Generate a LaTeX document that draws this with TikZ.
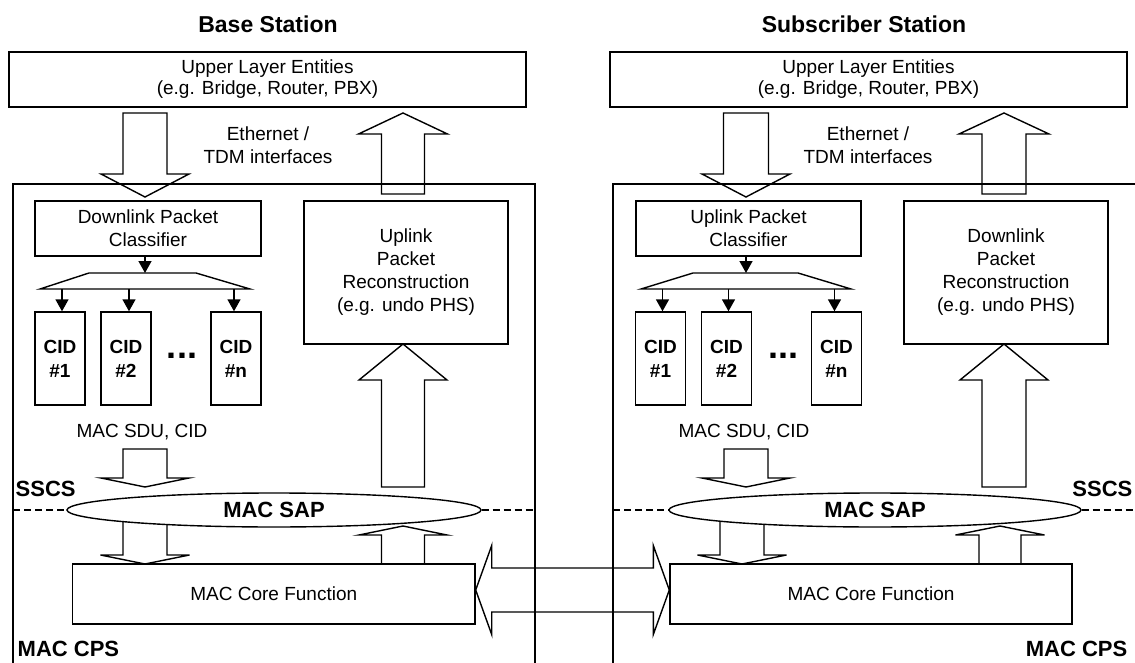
\documentclass[tikz,border=0pt]{standalone}
\usepackage{fontspec}
\setmainfont{Liberation Sans}
\usetikzlibrary{calc,arrows.meta,shapes.geometric}

\newcommand\txtnorm{\fontsize{19}{23}\selectfont}
\newcommand\txtbold{\fontsize{22}{26}\selectfont\bfseries}

% hollow block arrow: #1 tail, #2 tip, #3 shaft half-width, #4 head half-width, #5 head length
\newcommand\fatarrow[5]{%
  \coordinate (fahead) at ($(#2)!#5!(#1)$);
  \draw[blockarrow] ($(#1)!#3!90:(#2)$) -- ($(fahead)!#3!-90:(#1)$)
    -- ($(fahead)!#4!-90:(#1)$) -- (#2) -- ($(fahead)!#4!90:(#1)$)
    -- ($(fahead)!#3!90:(#1)$) -- ($(#1)!#3!-90:(#2)$) -- cycle;}

% hollow double-headed block arrow between #1 and #2
\newcommand\dblfatarrow[5]{%
  \coordinate (faheadA) at ($(#1)!#5!(#2)$);
  \coordinate (faheadB) at ($(#2)!#5!(#1)$);
  \draw[blockarrow] (#1) -- ($(faheadA)!#4!90:(#2)$) -- ($(faheadA)!#3!90:(#2)$)
    -- ($(faheadB)!#3!-90:(#1)$) -- ($(faheadB)!#4!-90:(#1)$) -- (#2)
    -- ($(faheadB)!#4!90:(#1)$) -- ($(faheadB)!#3!90:(#1)$)
    -- ($(faheadA)!#3!-90:(#2)$) -- ($(faheadA)!#4!-90:(#2)$) -- cycle;}

\begin{document}
\begin{tikzpicture}[x=1pt,y=-1pt,
  line width=1.4pt,
  box/.style={draw, align=center, inner sep=0pt, font=\txtnorm},
  cid/.style={draw, align=center, inner sep=0pt, font=\txtbold\fontsize{19}{24}\selectfont,
    minimum width=50pt, minimum height=93pt},
  plain/.style={align=center, inner sep=0pt, font=\txtnorm},
  lbl/.style={inner sep=0pt, font=\txtbold},
  titlelbl/.style={inner sep=0pt, font=\fontsize{23}{27}\selectfont\bfseries},
  sap/.style={draw, fill=white, ellipse, inner sep=0pt, font=\txtbold, minimum height=34pt},
  small/.style={-{Triangle[length=12pt,width=13pt]}, line width=1.5pt},
  blockarrow/.style={line width=1.4pt, line join=miter},
  layerline/.style={line width=1.8pt, dash pattern=on 7pt off 4pt},
  dots/.style={inner sep=0pt, font=\fontsize{36}{36}\selectfont\bfseries}]

\useasboundingbox (0,0) rectangle (1135,663);

% ---------------- Base Station ----------------
\node[titlelbl, anchor=base] (bsTitle) at (268,33) {Base Station};
\node[box, minimum width=517pt, minimum height=55pt, font=\fontsize{19}{21}\selectfont]
  (uleL) at (267.5,79.5) {Upper Layer Entities\\(e.g. Bridge, Router, PBX)};
\node[plain] (ethL) at (268,145) {Ethernet /\\TDM interfaces};

\draw (13,663) -- (13,184) -- (535,184) -- (535,663);

\node[box, minimum width=226pt, minimum height=55pt] (clsL) at (148,228.5) {Downlink Packet\\Classifier};
% fan-out bar below the classifier
\coordinate (fanLtop) at (145,273);
\coordinate (fanLbot) at (145,289);
\draw (40,289) -- (89,273) -- (196,273) -- (250,289) -- cycle;
\node[cid] (cid1L) at (60,358.5) {CID\\\#1};
\node[cid] (cid2L) at (126,358.5) {CID\\\#2};
\node[cid] (cidnL) at (236,358.5) {CID\\\#n};
\node[dots] (dotsL) at (182,356) {...};
\node[box, minimum width=204pt, minimum height=143pt] (recL) at (406,272.5)
  {Uplink\\Packet\\Reconstruction\\(e.g. undo PHS)};
\node[plain] (sduL) at (142,432) {MAC SDU, CID};
\node[box, minimum width=402.5pt, minimum height=60pt] (coreL) at (273.75,594) {MAC Core Function};
\node[lbl, anchor=base west] (sscsL) at (15,496) {SSCS};
\node[lbl, anchor=base west] (cpsL) at (17,656) {MAC CPS};

\draw[small] (fanLtop |- clsL.south) -- (fanLtop);
\draw[small] ([xshift=2pt]cid1L.north |- fanLbot) -- ([xshift=2pt]cid1L.north);
\draw[small] ([xshift=3pt]cid2L.north |- fanLbot) -- ([xshift=3pt]cid2L.north);
\draw[small] ([xshift=-2pt]cidnL.north |- fanLbot) -- ([xshift=-2pt]cidnL.north);

\coordinate (dnLa) at (145,113);  \coordinate (dnLb) at (145,197);
\coordinate (upLa) at (403,194);  \coordinate (upLb) at (403,113);
\coordinate (rcLa) at (403,487);  \coordinate (rcLb) at (403,344);
\coordinate (sdLa) at (145,449);  \coordinate (sdLb) at (145,487);
\coordinate (cdLa) at (145,516);  \coordinate (cdLb) at (145,564);
\coordinate (cuLa) at (403,564);  \coordinate (cuLb) at (403,526);
\fatarrow{dnLa}{dnLb}{22pt}{44pt}{23pt}
\fatarrow{upLa}{upLb}{21.5pt}{44.5pt}{21pt}
\fatarrow{rcLa}{rcLb}{21.5pt}{44pt}{36pt}
\fatarrow{sdLa}{sdLb}{22pt}{44pt}{9pt}
\fatarrow{cdLa}{cdLb}{22pt}{44.5pt}{9pt}
\fatarrow{cuLa}{cuLb}{21.5pt}{44pt}{9pt}

\node[sap, minimum width=414pt] (sapL) at (274,510) {MAC SAP};
\draw[layerline] (13,510) -- (sapL.west);
\draw[layerline] (sapL.east) -- (535,510);

% ---------------- Subscriber Station ----------------
\node[titlelbl, anchor=base] (ssTitle) at (864,33) {Subscriber Station};
\node[box, minimum width=517pt, minimum height=55pt, font=\fontsize{19}{21}\selectfont]
  (uleR) at (868.5,79.5) {Upper Layer Entities\\(e.g. Bridge, Router, PBX)};
\node[plain] (ethR) at (868,145) {Ethernet /\\TDM interfaces};

\draw (613,663) -- (613,184) -- (1135,184);

\node[box, minimum width=225pt, minimum height=55pt] (clsR) at (748.5,228.5) {Uplink Packet\\Classifier};
\coordinate (fanRtop) at (746,273);
\coordinate (fanRbot) at (746,289);
\draw (641,289) -- (693,273) -- (798,273) -- (851,289) -- cycle;
\node[cid] (cid1R) at (660.5,358.5) {CID\\\#1};
\node[cid] (cid2R) at (726.5,358.5) {CID\\\#2};
\node[cid] (cidnR) at (836.5,358.5) {CID\\\#n};
\node[dots] (dotsR) at (783,356) {...};
\node[box, minimum width=204pt, minimum height=143pt] (recR) at (1006,272.5)
  {Downlink\\Packet\\Reconstruction\\(e.g. undo PHS)};
\node[plain] (sduR) at (744,432) {MAC SDU, CID};
\node[box, minimum width=402pt, minimum height=60pt] (coreR) at (871,594) {MAC Core Function};
\node[lbl, anchor=base east] (sscsR) at (1133,496) {SSCS};
\node[lbl, anchor=base east] (cpsR) at (1128,656) {MAC CPS};

\draw[small] (fanRtop |- clsR.south) -- (fanRtop);
\draw[small] ([xshift=2pt]cid1R.north |- fanRbot) -- ([xshift=2pt]cid1R.north);
\draw[small] ([xshift=2pt]cid2R.north |- fanRbot) -- ([xshift=2pt]cid2R.north);
\draw[small] ([xshift=-2pt]cidnR.north |- fanRbot) -- ([xshift=-2pt]cidnR.north);

\coordinate (dnRa) at (746,113);  \coordinate (dnRb) at (746,197);
\coordinate (upRa) at (1004,194); \coordinate (upRb) at (1004,113);
\coordinate (rcRa) at (1004,487); \coordinate (rcRb) at (1004,344);
\coordinate (sdRa) at (746,449);  \coordinate (sdRb) at (746,487);
\coordinate (cdRa) at (742,516);  \coordinate (cdRb) at (742,564);
\coordinate (cuRa) at (1000,564); \coordinate (cuRb) at (1000,526);
\fatarrow{dnRa}{dnRb}{22.5pt}{44pt}{23pt}
\fatarrow{upRa}{upRb}{22pt}{45pt}{21pt}
\fatarrow{rcRa}{rcRb}{22pt}{44pt}{36pt}
\fatarrow{sdRa}{sdRb}{22pt}{44pt}{9pt}
\fatarrow{cdRa}{cdRb}{22pt}{44.5pt}{9pt}
\fatarrow{cuRa}{cuRb}{21pt}{44.5pt}{9pt}

\node[sap, minimum width=412pt] (sapR) at (875,510) {MAC SAP};
\draw[layerline] (613,510) -- (sapR.west);
\draw[layerline] (sapR.east) -- (1135,510);

% ---------------- air link between the two MAC cores ----------------
\coordinate (linkL) at ([yshift=4pt]coreL.east);
\coordinate (linkR) at ([yshift=4pt]coreR.west);
\dblfatarrow{linkL}{linkR}{22pt}{44.5pt}{16pt}

\end{tikzpicture}
\end{document}
